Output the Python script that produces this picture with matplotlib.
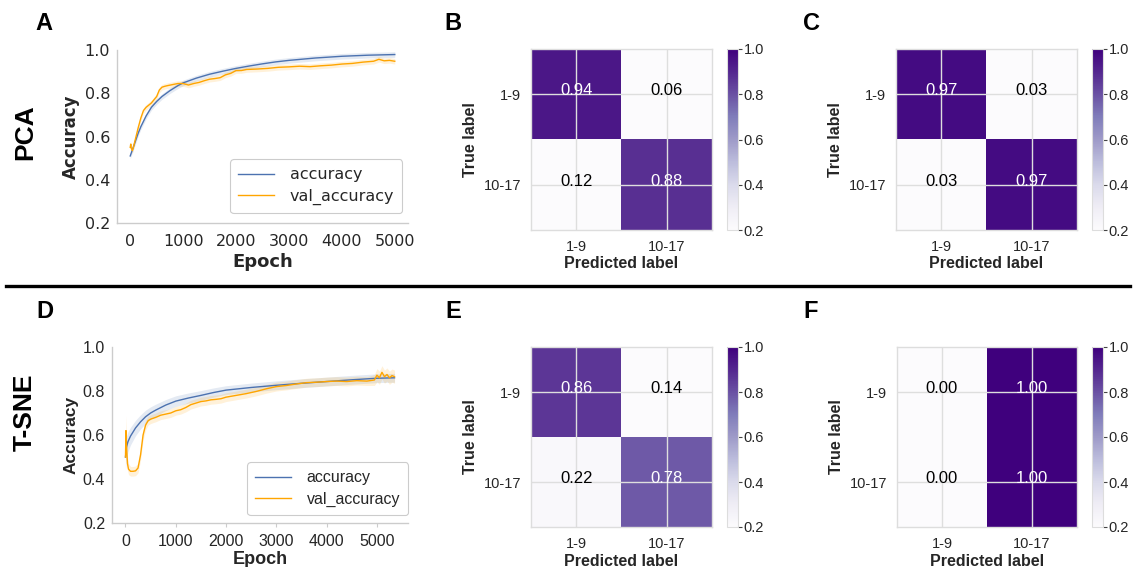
import matplotlib
matplotlib.use("Agg")
import matplotlib.pyplot as plt
import numpy as np

# ---------------- data ----------------
epochs_acc_A = [0, 50, 100, 150, 200, 300, 400, 500, 600, 750, 900, 1000, 1250, 1500, 1750,
                2000, 2250, 2500, 2750, 3000, 3500, 4000, 4500, 5000]
acc_A = [0.51, 0.545, 0.58, 0.615, 0.645, 0.695, 0.735, 0.762, 0.785, 0.812, 0.835, 0.848,
         0.870, 0.888, 0.902, 0.915, 0.926, 0.936, 0.945, 0.952, 0.963, 0.971, 0.976, 0.979]
epochs_val_A = [0, 10, 20, 40, 60, 100, 150, 200, 250, 300, 400, 500, 550, 600, 650, 700, 800,
                900, 1000, 1100, 1200, 1300, 1400, 1500, 1600, 1700, 1800, 1900, 2000, 2100,
                2200, 2400, 2600, 2800, 3000, 3200, 3400, 3600, 3800, 4000, 4200, 4400, 4600,
                4700, 4800, 4900, 5000]
val_A = [0.55, 0.565, 0.545, 0.535, 0.55, 0.59, 0.64, 0.685, 0.72, 0.735, 0.755, 0.785, 0.815,
         0.828, 0.832, 0.835, 0.84, 0.845, 0.845, 0.838, 0.845, 0.85, 0.858, 0.865, 0.868,
         0.872, 0.885, 0.892, 0.905, 0.905, 0.91, 0.912, 0.915, 0.92, 0.922, 0.925, 0.923,
         0.927, 0.93, 0.935, 0.938, 0.944, 0.948, 0.957, 0.95, 0.952, 0.948]
band_acc_A = 0.013
band_val_A = 0.013

epochs_acc_D = [0, 20, 50, 100, 200, 300, 400, 500, 600, 800, 1000, 1250, 1500, 1750, 2000,
                2500, 3000, 3500, 4000, 4500, 5000, 5350]
acc_D = [0.50, 0.545, 0.57, 0.595, 0.632, 0.66, 0.683, 0.70, 0.713, 0.736, 0.754, 0.768, 0.78,
         0.793, 0.804, 0.816, 0.826, 0.835, 0.843, 0.851, 0.858, 0.86]
band_acc_D = [0.05, 0.05, 0.045, 0.04, 0.035, 0.032, 0.03, 0.028, 0.027, 0.025, 0.024, 0.023,
              0.022, 0.021, 0.02, 0.02, 0.02, 0.02, 0.02, 0.02, 0.02, 0.02]
epochs_val_D = [0, 10, 20, 40, 60, 100, 150, 200, 250, 300, 350, 400, 450, 500, 600, 700, 800,
                900, 1000, 1100, 1200, 1300, 1400, 1500, 1600, 1700, 1800, 1900, 2000, 2200,
                2400, 2600, 2800, 3000, 3200, 3400, 3600, 3800, 4000, 4200, 4400, 4600, 4800,
                4950, 5000, 5050, 5100, 5150, 5200, 5250, 5300, 5350]
val_D = [0.50, 0.62, 0.55, 0.47, 0.445, 0.435, 0.435, 0.437, 0.45, 0.51, 0.60, 0.645, 0.665,
         0.672, 0.68, 0.69, 0.695, 0.70, 0.71, 0.715, 0.725, 0.738, 0.745, 0.752, 0.755, 0.76,
         0.762, 0.765, 0.772, 0.78, 0.788, 0.798, 0.81, 0.82, 0.825, 0.832, 0.838, 0.84, 0.843,
         0.845, 0.843, 0.847, 0.845, 0.85, 0.872, 0.86, 0.885, 0.865, 0.875, 0.86, 0.87, 0.865]
band_val_D = [0.07, 0.07, 0.06, 0.03, 0.025, 0.022, 0.022, 0.022, 0.022, 0.025, 0.025, 0.022,
              0.02, 0.02, 0.02, 0.02, 0.02, 0.02, 0.02, 0.02, 0.02, 0.02, 0.02, 0.02, 0.02,
              0.02, 0.02, 0.02, 0.02, 0.02, 0.02, 0.02, 0.02, 0.02, 0.02, 0.02, 0.02, 0.02,
              0.02, 0.02, 0.02, 0.02, 0.02, 0.025, 0.03, 0.03, 0.03, 0.03, 0.03, 0.03, 0.03,
              0.03]

class_labels = ["1-9", "10-17"]
cm_B = [[0.94, 0.06], [0.12, 0.88]]
cm_C = [[0.97, 0.03], [0.03, 0.97]]
cm_E = [[0.86, 0.14], [0.22, 0.78]]
cm_F = [[0.00, 1.00], [0.00, 1.00]]

y_ticks = [0.2, 0.4, 0.6, 0.8, 1.0]
x_ticks = [0, 1000, 2000, 3000, 4000, 5000]
cbar_ticks = [0.2, 0.4, 0.6, 0.8, 1.0]

# ---------------- figure ----------------
W, H = 1135, 567
fig = plt.figure(figsize=(W / 100, H / 100), dpi=100)
fig.patch.set_facecolor("white")

SANS = ["Liberation Sans", "DejaVu Sans"]
DJV = ["DejaVu Sans"]
GREY = "#cccccc"
TXT = "#262626"
BLUE = "#4c72b0"
ORANGE = "#ffa500"


def px_axes(l, t, r, b):
    return fig.add_axes([l / W, 1 - b / H, (r - l) / W, (b - t) / H])


def line_panel(rect, ea, a, ba, ev, v, bv, xlim, legend_anchor, fam, tick_fs, lab_fs, xlab_fs,
               leg_fs, xtick_len, xpad, xlabpad):
    ax = px_axes(*rect)
    ea, a, ba, ev, v, bv = (np.asarray(q, dtype=float) for q in (ea, a, ba, ev, v, bv))
    ax.fill_between(ea, a - ba, a + ba, color=BLUE, alpha=0.15, lw=0)
    ax.fill_between(ev, v - bv, v + bv, color=ORANGE, alpha=0.15, lw=0)
    ax.plot(ea, a, color=BLUE, lw=1.0, label="accuracy")
    ax.plot(ev, v, color=ORANGE, lw=1.0, label="val_accuracy")
    ax.set_xlim(*xlim)
    ax.set_ylim(0.2, 1.0)
    ax.set_yticks(y_ticks)
    ax.set_xticks(x_ticks)
    ax.set_yticklabels([f"{t:.1f}" for t in y_ticks], family=fam, fontsize=tick_fs, color=TXT)
    ax.set_xticklabels([str(t) for t in x_ticks], family=fam, fontsize=tick_fs, color=TXT)
    ax.tick_params(axis="y", length=0, pad=5)
    ax.tick_params(axis="x", length=xtick_len, width=0.8, color=GREY, pad=xpad)
    for s in ("top", "right"):
        ax.spines[s].set_visible(False)
    for s in ("left", "bottom"):
        ax.spines[s].set_color(GREY)
        ax.spines[s].set_linewidth(1.0)
    ax.set_ylabel("Accuracy", family=fam, fontsize=lab_fs, fontweight="bold", color=TXT, labelpad=3)
    ax.set_xlabel("Epoch", family=fam, fontsize=xlab_fs, fontweight="bold", color=TXT,
                  labelpad=xlabpad)
    leg = ax.legend(loc="lower right", bbox_to_anchor=(legend_anchor[0] / W, 1 - legend_anchor[1] / H),
                    bbox_transform=fig.transFigure, borderaxespad=0,
                    prop={"family": fam, "size": leg_fs}, frameon=True, fancybox=True,
                    handlelength=2.2, handletextpad=1.0, borderpad=0.5, labelspacing=0.4)
    leg.get_frame().set_edgecolor(GREY)
    leg.get_frame().set_linewidth(0.8)
    leg.get_frame().set_alpha(1.0)
    for t in leg.get_texts():
        t.set_color(TXT)
    return ax


def cm_panel(rect, cbar_rect, cm):
    ax = px_axes(*rect)
    cm = np.asarray(cm)
    im = ax.imshow(cm, cmap="Purples", vmin=0.2, vmax=1.0, aspect="auto", interpolation="nearest")
    for i in range(cm.shape[0]):
        for j in range(cm.shape[1]):
            val = cm[i, j]
            ax.text(j, i + 0.01, f"{val:.2f}", ha="center", va="baseline", fontsize=12,
                    family=SANS, color="white" if val > 0.6 else "black")
    ax.set_xticks(range(len(class_labels)))
    ax.set_yticks(range(len(class_labels)))
    ax.set_xticklabels(class_labels, family=SANS, fontsize=10.5, color=TXT)
    ax.set_yticklabels(class_labels, family=SANS, fontsize=10.5, color=TXT)
    ax.tick_params(length=0, pad=7)
    ax.grid(True, color="#dedede", lw=1.0)
    for s in ax.spines.values():
        s.set_color("#dddddd")
        s.set_linewidth(1.0)
    ax.set_xlabel("Predicted label", family=SANS, fontsize=11.5, fontweight="bold", color=TXT, labelpad=2)
    ax.set_ylabel("True label", family=SANS, fontsize=11.5, fontweight="bold", color=TXT, labelpad=4)
    cax = px_axes(*cbar_rect)
    cb = fig.colorbar(im, cax=cax, ticks=cbar_ticks)
    cb.outline.set_edgecolor("#dddddd")
    cb.outline.set_linewidth(0.8)
    cax.tick_params(length=3, width=0.8, color="#444444", pad=1)
    cax.set_yticklabels([f"{t:.1f}" for t in cbar_ticks], family=SANS, fontsize=10.5, color=TXT)
    return ax


line_panel((117, 50, 408, 223), epochs_acc_A, acc_A, [band_acc_A] * len(acc_A),
           epochs_val_A, val_A, [band_val_A] * len(val_A),
           (-250, 5250), (402, 213), DJV, 11.5, 12, 13, 11.5, 0, 8, 3)
line_panel((112, 347, 408, 523), epochs_acc_D, acc_D, band_acc_D, epochs_val_D, val_D, band_val_D,
           (-268, 5618), (408, 515), SANS, 11.5, 12.5, 13, 11.5, 3, 5, 1)

cm_panel((531, 49, 712, 230), (727, 49, 738, 230), cm_B)
cm_panel((896, 49, 1077, 230), (1092, 49, 1103, 230), cm_C)
cm_panel((531, 347, 712, 527), (727, 347, 738, 527), cm_E)
cm_panel((897, 347, 1077, 527), (1092, 347, 1103, 527), cm_F)

# panel letters
for letter, x, y in [("A", 44, 24), ("B", 453, 24), ("C", 811, 24),
                     ("D", 45, 312), ("E", 453, 312), ("F", 811, 312)]:
    fig.text(x / W, 1 - y / H, letter, family=SANS, fontsize=17, fontweight="bold",
             ha="center", va="center")

# row labels
fig.text(25 / W, 1 - 132 / H, "PCA", family=SANS, fontsize=19, fontweight="bold",
         rotation=90, ha="center", va="center")
fig.text(25 / W, 1 - 412 / H, "T-SNE", family=SANS, fontsize=19, fontweight="bold",
         rotation=90, ha="center", va="center")

# separator line
fig.add_artist(matplotlib.lines.Line2D([6 / W, 1130 / W], [1 - 286 / H, 1 - 286 / H],
                                       color="black", lw=2.4, transform=fig.transFigure))

fig.savefig("out.png", dpi=100, facecolor="white")
